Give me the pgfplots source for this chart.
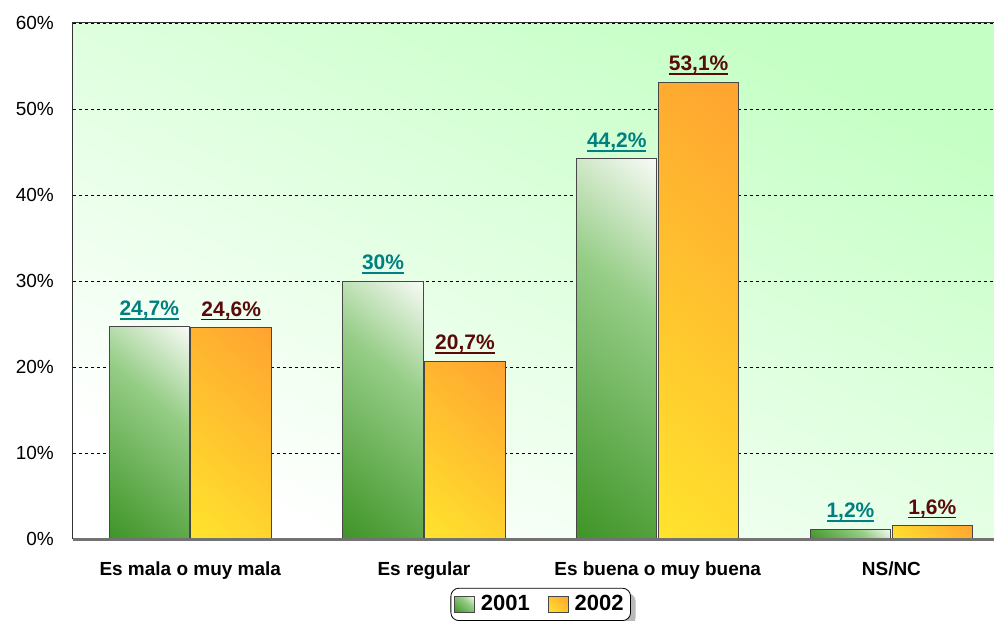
\documentclass[border=0pt]{standalone}
\usepackage{fontspec}
\setmainfont{Liberation Sans}
\usepackage{pgfplots}
\pgfplotsset{compat=1.18}
\usetikzlibrary{shadows}
\makeatletter
\tikzset{nopre/.code={\let\tikz@preactions\pgfutil@empty\let\tikz@postactions\pgfutil@empty}}
\makeatother
\definecolor{gdark}{RGB}{62,148,38}
\definecolor{gmid}{RGB}{150,205,135}
\definecolor{glight}{RGB}{248,251,246}
\definecolor{oyel}{RGB}{255,228,45}
\definecolor{oora}{RGB}{255,163,48}
\definecolor{bgtop}{RGB}{196,255,196}
\definecolor{lblA}{RGB}{0,128,128}
\definecolor{lblB}{RGB}{90,10,10}
\pgfdeclareverticalshading{gshade}{100bp}{color(0bp)=(gdark); color(14.8bp)=(gdark); color(60bp)=(gmid); color(85.2bp)=(glight); color(100bp)=(glight)}
\pgfdeclareverticalshading{oshade}{100bp}{color(0bp)=(oyel); color(14.8bp)=(oyel); color(85.2bp)=(oora); color(100bp)=(oora)}
\newcommand\ul[1]{\setbox0\hbox{#1}\leavevmode\rlap{\rule[-2.2pt]{\wd0}{0.9pt}}\box0}
\pgfplotsset{
  barA/.style={ybar, bar width=40.25pt, bar shift=-20.5pt, draw=black!72, line width=0.5pt,
    shade, shading=gshade, shading angle=-40,
    nodes near coords style={text=lblA, xshift=-20.5pt}},
  barB/.style={ybar, bar width=40.25pt, bar shift=20.5pt, draw=black!72, line width=0.5pt,
    shade, shading=oshade, shading angle=-40,
    nodes near coords style={text=lblB, xshift=20.5pt}},
}
\begin{document}
\begin{tikzpicture}
\begin{axis}[
  scale only axis,
  width=461pt, height=258.5pt,
  ymin=0, ymax=60,
  xmin=-0.502, xmax=3.438,
  axis line style={draw=none},
  ytick={0,10,...,60},
  yticklabel={\pgfmathprintnumber{\tick}\%},
  yticklabel style={font=\fontsize{9.5}{11}\selectfont, xshift=-6pt},
  /pgf/number format/assume math mode=true,
  xtick={0,1,2,3},
  xticklabels={Es mala o muy mala, Es regular, Es buena o muy buena, NS/NC},
  xticklabel style={font=\bfseries\fontsize{9.5}{11}\selectfont, yshift=-7.5pt},
  major tick length=0pt,
  ymajorgrids,
  major grid style={black, line width=0.4pt, dash pattern=on 1.5pt off 1.5pt},
  axis background/.style={shade, shading=axis, bottom color=white, top color=bgtop, shading angle=-25},
  clip=false,
  point meta=explicit symbolic,
  nodes near coords={\ul{\pgfplotspointmeta}},
  nodes near coords style={font=\bfseries\fontsize{10.5}{12}\selectfont, yshift=0pt},
  legend style={at={(0.508,-0.126)}, anchor=center, draw=black, rounded corners=4pt,
    font=\bfseries\fontsize{11}{13}\selectfont, legend columns=2,
    inner sep=1.5pt,
    drop shadow={shadow xshift=2.5pt, shadow yshift=-2.5pt, fill=gray!55, opacity=1},
    /tikz/every odd column/.append style={column sep=1pt},
    /tikz/every even column/.append style={column sep=7pt}},
  legend image code/.code={\draw[nopre, #1, sharp corners] (0pt,-4pt) rectangle (10pt,4pt);},
]
\addplot[barA] coordinates {(0,24.7) [24,7\%]};
\addplot[barB] coordinates {(0,24.6) [24,6\%]};
\addplot[barA, forget plot] coordinates {(1,30) [30\%]};
\addplot[barA, forget plot] coordinates {(2,44.2) [44,2\%]};
\addplot[barA, forget plot] coordinates {(3,1.2) [1,2\%]};
\addplot[barB, forget plot] coordinates {(1,20.7) [20,7\%]};
\addplot[barB, forget plot] coordinates {(2,53.1) [53,1\%]};
\addplot[barB, forget plot] coordinates {(3,1.6) [1,6\%]};
\legend{2001,2002}
\draw[black!80, line width=0.5pt] (rel axis cs:0,0) -- (rel axis cs:0,1) -- (rel axis cs:1,1);
\draw[black!55, line width=1.2pt] (rel axis cs:0,0) -- (rel axis cs:1,0);
\path (rel axis cs:0,0) ++(-36.5pt,-39.5pt);
\path (rel axis cs:1,1) ++(0pt,11.5pt);
\end{axis}
\end{tikzpicture}
\end{document}
